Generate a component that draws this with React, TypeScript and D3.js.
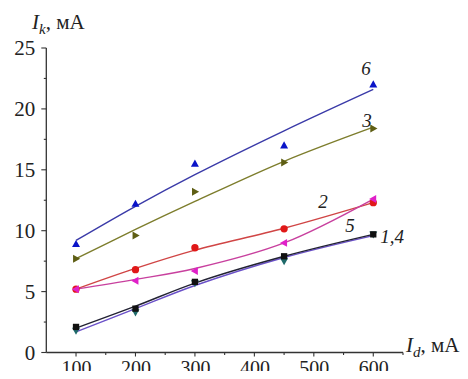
import { useEffect, useRef } from "react";
import * as d3 from "d3";

// measured points, x = I_d (mA), y = I_k (mA)
const xValues = [100, 200, 300, 450, 600];
const xTicks = [100, 200, 300, 400, 500, 600];
const yTicks = [0, 5, 10, 15, 20, 25];

const s6 = [8.9, 12.2, 15.5, 17.0, 22.0];
const s3 = [7.7, 9.6, 13.2, 15.6, 18.4];
const s2 = [5.2, 6.8, 8.6, 10.15, 12.3];
const s5 = [5.2, 5.9, 6.7, 9.0, 12.6];
const s1 = [2.1, 3.6, 5.8, 7.9, 9.7];
const s4 = [1.8, 3.3, 5.7, 7.5, 9.7];

// fitted curves drawn through the points
const fit6 = [9.2, 12.0, 14.6, 18.2, 21.6];
const fit3 = [7.7, 10.1, 12.4, 15.7, 18.5];
const fit2 = [5.2, 6.9, 8.4, 10.2, 12.3];
const fit5 = [5.2, 6.0, 6.9, 9.0, 12.6];
const fit1 = [2.0, 3.8, 5.7, 7.9, 9.7];
const fit4 = [1.7, 3.6, 5.5, 7.8, 9.6];

const series = [
  { name: "6", pts: s6, fit: fit6, line: "#3a3aa8", mark: "#0a14c8", shape: "up" },
  { name: "3", pts: s3, fit: fit3, line: "#7d7d2c", mark: "#5e5e14", shape: "right" },
  { name: "2", pts: s2, fit: fit2, line: "#d04545", mark: "#e01818", shape: "circle" },
  { name: "5", pts: s5, fit: fit5, line: "#c8409e", mark: "#e020c8", shape: "left" },
  { name: "4", pts: s4, fit: fit4, line: "#6a50c8", mark: "#1f6a6a", shape: "down" },
  { name: "1", pts: s1, fit: fit1, line: "#222233", mark: "#111111", shape: "square" },
];

const labels = [
  { text: "6", x: 366, y: 75 },
  { text: "3", x: 367, y: 127 },
  { text: "2", x: 323, y: 208 },
  { text: "5", x: 350, y: 232 },
  { text: "1,4", x: 392, y: 243 },
];

const W = 468;
const H = 379;

function markerPath(shape: string, s: number) {
  switch (shape) {
    case "up":
      return `M0,${-s}L${s * 0.95},${s * 0.7}L${-s * 0.95},${s * 0.7}Z`;
    case "down":
      return `M0,${s}L${s * 0.95},${-s * 0.7}L${-s * 0.95},${-s * 0.7}Z`;
    case "right":
      return `M${s},0L${-s * 0.7},${s * 0.95}L${-s * 0.7},${-s * 0.95}Z`;
    case "left":
      return `M${-s},0L${s * 0.7},${s * 0.95}L${s * 0.7},${-s * 0.95}Z`;
    case "square":
      return `M${-s * 0.75},${-s * 0.75}h${s * 1.5}v${s * 1.5}h${-s * 1.5}Z`;
    default:
      return d3.symbol(d3.symbolCircle, s * s * 2.4)() as string;
  }
}

export default function App() {
  const ref = useRef<SVGSVGElement>(null);

  useEffect(() => {
    const svg = d3.select(ref.current);
    svg.selectAll("*").remove();

    const x = d3.scaleLinear().domain([50, 650]).range([46.3, 403]);
    const y = d3.scaleLinear().domain([0, 25]).range([352.5, 48]);
    const font = "'Liberation Serif', 'Times New Roman', serif";
    const axisColor = "#333";

    // axes
    const xAxis = svg.append("g").attr("transform", `translate(0,${y(0)})`);
    xAxis.append("line").attr("x1", x(50)).attr("x2", x(650)).attr("stroke", axisColor).attr("stroke-width", 1.3);
    d3.range(100, 651, 50).forEach((v) => {
      const major = v % 100 === 0;
      xAxis.append("line").attr("x1", x(v)).attr("x2", x(v)).attr("y1", 0).attr("y2", major ? 4 : 2.5)
        .attr("stroke", axisColor).attr("stroke-width", 1.1);
    });
    xAxis.selectAll("text.tick").data(xTicks).join("text")
      .attr("x", (d) => x(d) + 0.5).attr("y", 22.5).attr("text-anchor", "middle")
      .style("font-family", font).style("font-size", "20px").attr("fill", "#222")
      .text((d) => d);

    const yAxis = svg.append("g").attr("transform", `translate(${x(50)},0)`);
    yAxis.append("line").attr("y1", y(0)).attr("y2", y(25)).attr("stroke", axisColor).attr("stroke-width", 1.3);
    d3.range(0, 25.1, 2.5).forEach((v) => {
      const major = v % 5 === 0;
      yAxis.append("line").attr("y1", y(v)).attr("y2", y(v)).attr("x1", 0).attr("x2", major ? -5 : -2.5)
        .attr("stroke", axisColor).attr("stroke-width", 1.1);
    });
    yAxis.selectAll("text.tick").data(yTicks).join("text")
      .attr("x", -11).attr("y", (d) => y(d) + 7).attr("text-anchor", "end")
      .style("font-family", font).style("font-size", "21px").attr("fill", "#222")
      .text((d) => d);

    // fit lines and markers
    const line = d3.line<number>()
      .x((_, i) => x(xValues[i]))
      .y((d) => y(d))
      .curve(d3.curveCatmullRom.alpha(0.5));

    series.forEach((s) => {
      svg.append("path").attr("d", line(s.fit)).attr("fill", "none")
        .attr("stroke", s.line).attr("stroke-width", 1.4);
    });
    series.forEach((s) => {
      svg.append("g").selectAll("path").data(s.pts).join("path")
        .attr("transform", (d, i) => `translate(${x(xValues[i])},${y(d)})`)
        .attr("d", markerPath(s.shape, 4.2))
        .attr("fill", s.mark);
    });

    // curve numbers
    svg.append("g").selectAll("text").data(labels).join("text")
      .attr("x", (d) => d.x).attr("y", (d) => d.y).attr("text-anchor", "middle")
      .style("font-family", font).style("font-size", "19px").style("font-style", "italic")
      .attr("fill", "#222").text((d) => d.text);

    // axis titles
    const yt = svg.append("text").attr("x", 32).attr("y", 29)
      .style("font-family", font).style("font-size", "21px").attr("fill", "#222");
    yt.append("tspan").style("font-style", "italic").text("I");
    yt.append("tspan").style("font-style", "italic").style("font-size", "15px").attr("dy", 5).text("k");
    yt.append("tspan").attr("dy", -5).text(", мА");

    const xt = svg.append("text").attr("x", 406).attr("y", 352)
      .style("font-family", font).style("font-size", "21px").attr("fill", "#222");
    xt.append("tspan").style("font-style", "italic").text("I");
    xt.append("tspan").style("font-style", "italic").style("font-size", "15px").attr("dy", 5).text("d");
    xt.append("tspan").attr("dy", -5).text(", мА");

    // cut-off caption remnant at the top edge
    svg.append("text").attr("x", 9).attr("y", 3)
      .style("font-family", font).style("font-size", "20px").attr("fill", "#222").text("«В»).");
  }, []);

  return (
    <div style={{ margin: -8, width: W, height: H, background: "#fff" }}>
      <svg ref={ref} width={W} height={H} style={{ display: "block" }} />
    </div>
  );
}
